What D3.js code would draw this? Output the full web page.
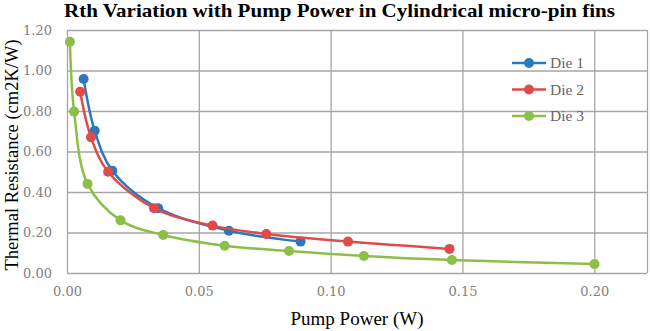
<!DOCTYPE html>
<html>
<head>
<meta charset="utf-8">
<script src="https://cdn.jsdelivr.net/npm/d3@7"></script>
<style>
  body { margin: 0; background: #fff; }
</style>
</head>
<body>
<div id="chart-area"></div>
<script>
// values
var die1X = [0.0063, 0.0105, 0.0172, 0.0346, 0.0614, 0.0886];
var die1Y = [0.958, 0.703, 0.505, 0.320, 0.209, 0.155];
var die2X = [0.0050, 0.0091, 0.0156, 0.0330, 0.0552, 0.0756, 0.1066, 0.1451];
var die2Y = [0.895, 0.670, 0.500, 0.320, 0.234, 0.193, 0.155, 0.119];
var die3X = [0.0011, 0.0027, 0.0078, 0.0203, 0.0365, 0.0598, 0.0842, 0.1126, 0.1460, 0.2001];
var die3Y = [1.142, 0.797, 0.440, 0.260, 0.188, 0.135, 0.109, 0.084, 0.064, 0.044];
var seriesNames = ["Die 1", "Die 2", "Die 3"];
var xTicks = [0, 0.05, 0.10, 0.15, 0.20];
var yTicks = [0, 0.2, 0.4, 0.6, 0.8, 1.0, 1.2];

var width = 650;
var height = 331;
var margin = {top: 30, right: 3, bottom: 58, left: 67};
var plotW = width - margin.left - margin.right;
var plotH = height - margin.top - margin.bottom;

var colors = d3.scaleOrdinal()
    .domain(seriesNames)
    .range(["#2a79bf", "#e04b4a", "#8cbf45"]);

var series = [
    {name: "Die 1", xs: die1X, ys: die1Y},
    {name: "Die 2", xs: die2X, ys: die2Y},
    {name: "Die 3", xs: die3X, ys: die3Y}
].map(function(s) {
    return {name: s.name, values: s.xs.map(function(x, i) { return {x: x, y: s.ys[i]}; })};
});

var svg = d3.select("#chart-area").append("svg")
    .attr("width", width)
    .attr("height", height);

var g = svg.append("g")
    .attr("transform", "translate(" + margin.left + ", " + margin.top + ")");

var x = d3.scaleLinear()
    .domain([0, 0.22])
    .range([0, plotW]);

var y = d3.scaleLinear()
    .domain([0, 1.2])
    .range([plotH, 0]);

// grid
g.append("g")
    .attr("class", "grid y")
    .call(d3.axisLeft(y).tickValues(yTicks).tickSize(-plotW).tickFormat(""))
    .call(function(a) { a.select(".domain").remove(); });

g.append("g")
    .attr("class", "grid x")
    .attr("transform", "translate(0, " + plotH + ")")
    .call(d3.axisBottom(x).tickValues(xTicks.concat([0.22])).tickSize(-plotH).tickFormat(""))
    .call(function(a) { a.select(".domain").remove(); });

svg.selectAll(".grid line")
    .attr("stroke", "#a6a6a6")
    .attr("stroke-width", 1.3);

// axes labels
var xAxisGroup = g.append("g")
    .attr("class", "x axis")
    .attr("transform", "translate(0, " + plotH + ")")
    .call(d3.axisBottom(x).tickValues(xTicks).tickSize(0).tickPadding(14).tickFormat(d3.format(".2f")));

var yAxisGroup = g.append("g")
    .attr("class", "y axis")
    .call(d3.axisLeft(y).tickValues(yTicks).tickSize(0).tickPadding(15).tickFormat(d3.format(".2f")));

svg.selectAll(".axis .domain").remove();
svg.selectAll(".axis text")
    .attr("font-family", "DejaVu Serif, serif")
    .attr("font-size", "13px")
    .attr("fill", "#808080");

// lines
var line = d3.line()
    .x(function(d) { return x(d.x); })
    .y(function(d) { return y(d.y); })
    .curve(d3.curveCatmullRom.alpha(0.5));

var lines = g.selectAll(".series")
    .data(series)
    .enter()
    .append("g")
    .attr("class", "series");

lines.append("path")
    .attr("d", function(d) { return line(d.values); })
    .attr("fill", "none")
    .attr("stroke", function(d) { return colors(d.name); })
    .attr("stroke-width", 2.5);

lines.selectAll("circle")
    .data(function(d) { return d.values.map(function(v) { return {name: d.name, x: v.x, y: v.y}; }); })
    .enter()
    .append("circle")
    .attr("cx", function(d) { return x(d.x); })
    .attr("cy", function(d) { return y(d.y); })
    .attr("r", 5)
    .attr("fill", function(d) { return colors(d.name); });

// legend
var legend = svg.append("g")
    .attr("transform", "translate(512, 63)");

var item = legend.selectAll(".item")
    .data(seriesNames)
    .enter()
    .append("g")
    .attr("class", "item")
    .attr("transform", function(d, i) { return "translate(0, " + (i * 26.5) + ")"; });

item.append("line")
    .attr("x1", 0).attr("x2", 34)
    .attr("y1", 0).attr("y2", 0)
    .attr("stroke", function(d) { return colors(d); })
    .attr("stroke-width", 2.5);

item.append("circle")
    .attr("cx", 17).attr("cy", 0).attr("r", 5)
    .attr("fill", function(d) { return colors(d); });

item.append("text")
    .attr("x", 38)
    .attr("y", 5)
    .attr("font-family", "Liberation Serif, serif")
    .attr("font-size", "15.5px")
    .attr("fill", "#666666")
    .text(function(d) { return d; });

// titles
svg.append("text")
    .attr("x", 64)
    .attr("y", 17)
    .attr("textLength", 551)
    .attr("lengthAdjust", "spacingAndGlyphs")
    .attr("font-family", "Liberation Serif, serif")
    .attr("font-weight", "bold")
    .attr("font-size", "19px")
    .text("Rth Variation with Pump Power in Cylindrical micro-pin fins");

svg.append("text")
    .attr("x", 357)
    .attr("y", 325)
    .attr("text-anchor", "middle")
    .attr("font-family", "Liberation Serif, serif")
    .attr("font-size", "19px")
    .text("Pump Power (W)");

svg.append("text")
    .attr("x", -155)
    .attr("y", 18)
    .attr("text-anchor", "middle")
    .attr("transform", "rotate(-90)")
    .attr("font-family", "Liberation Serif, serif")
    .attr("font-size", "18.5px")
    .text("Thermal Resistance (cm2K/W)");
</script>
</body>
</html>
